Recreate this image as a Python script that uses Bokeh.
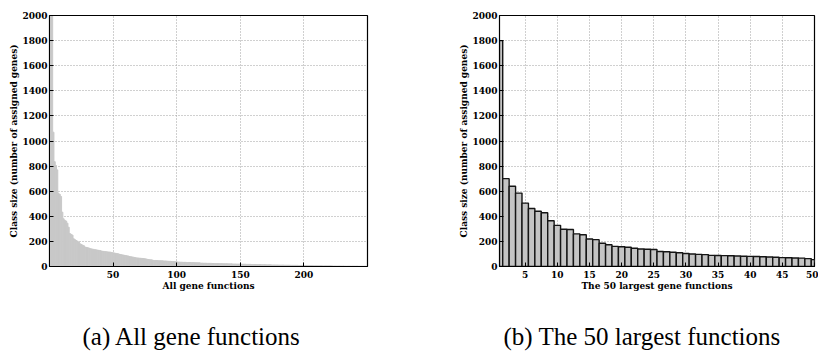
from bokeh.plotting import figure
from bokeh.layouts import row
from bokeh.models import Range1d, FixedTicker, Title
from bokeh.embed import file_html
from bokeh.resources import INLINE

# ---- data -----------------------------------------------------------------
all_sizes = [
    2600, 2200, 1070, 835, 805, 770, 584, 575, 558, 433,
    380, 368, 362, 345, 313, 262, 256, 250, 221, 214,
    207, 201, 195, 181, 176, 170, 165, 155, 152, 150,
    147, 142, 140, 138, 136, 134, 132, 130, 128, 126,
    123, 121, 120, 118, 117, 116, 115, 114, 111, 109,
    107, 105, 103, 101, 97, 95, 93, 91, 89, 87,
    85, 83, 80, 78, 76, 74, 72, 69, 68, 67,
    66, 65, 64, 63, 62, 60, 57, 55, 54, 53,
    51, 48, 48, 47, 47, 46, 46, 45, 45, 44,
    44, 43, 42, 41, 41, 40, 40, 39, 38, 37,
    35, 35, 34, 34, 33, 33, 33, 32, 32, 32,
    31, 31, 31, 30, 30, 30, 29, 29, 27, 27,
    26, 26, 26, 25, 25, 25, 25, 24, 24, 24,
    24, 23, 23, 23, 23, 22, 22, 22, 22, 21,
    21, 21, 21, 20, 20, 20, 19, 19, 19, 19,
    18, 18, 18, 18, 17, 17, 17, 17, 16, 16,
    16, 16, 15, 15, 15, 15, 14, 14, 14, 14,
    13, 13, 13, 13, 12, 12, 12, 12, 12, 11,
    11, 11, 11, 11, 10, 10, 10, 10, 10, 9,
    9, 9, 9, 9, 9, 8, 8, 8, 8, 8,
    8, 7, 7, 7, 7, 7, 7, 6, 6, 6,
    6, 6, 6, 6, 5, 5, 5, 5, 5, 5,
    5, 5, 4, 4, 4, 4, 4, 4, 4, 4,
    4, 3, 3, 3, 3, 3, 3, 3, 3, 3,
    3, 3, 2, 2, 2, 2, 2, 2, 2,
]
all_idx = list(range(1, len(all_sizes) + 1))

top50_sizes = [
    1800, 700, 640, 585, 505, 462, 440, 428, 365, 328,
    297, 295, 260, 253, 219, 214, 185, 173, 160, 157,
    153, 145, 139, 137, 135, 120, 117, 113, 109, 103,
    100, 97, 95, 89, 88, 87, 86, 84, 82, 81,
    80, 78, 76, 74, 71, 70, 68, 67, 63, 55,
]
top50_idx = list(range(1, len(top50_sizes) + 1))

y_ticks = list(range(0, 2001, 200))
x_ticks_all = [50, 100, 150, 200]
x_ticks_top = [5, 10, 15, 20, 25, 30, 35, 40, 45, 50]

y_label = "Class size (number of assigned genes)"
x_label_all = "All gene functions"
x_label_top = "The 50 largest gene functions"
caption_a = "(a) All gene functions"
caption_b = "(b) The 50 largest functions"

FONT = "DejaVu Serif"
CAP_FONT = "Liberation Serif"


def style(p, xticks):
    p.xaxis.ticker = FixedTicker(ticks=xticks)
    p.yaxis.ticker = FixedTicker(ticks=y_ticks)
    for ax in p.axis:
        ax.major_tick_in = 4
        ax.major_tick_out = 0
        ax.minor_tick_line_color = None
        ax.axis_line_color = "black"
        ax.major_tick_line_color = "black"
        ax.major_label_text_font = FONT
        ax.major_label_text_font_style = "bold"
        ax.major_label_text_font_size = "9px"
        ax.major_label_text_color = "black"
        ax.axis_label_text_font = FONT
        ax.axis_label_text_font_style = "bold"
        ax.axis_label_text_font_size = "9px"
        ax.axis_label_text_color = "black"
    p.yaxis.major_label_standoff = 2
    p.yaxis.axis_label_standoff = 0
    p.xaxis.major_label_standoff = 4
    p.xaxis.axis_label_standoff = 0
    p.outline_line_color = "black"
    p.outline_line_width = 1.2
    p.outline_line_alpha = 1.0
    p.grid.grid_line_color = "#a0a0a0"
    p.grid.grid_line_dash = "1 2"
    p.grid.grid_line_width = 1
    p.background_fill_color = "white"
    p.border_fill_color = "white"


def add_caption(p, text, offset):
    # invisible spacer between the x axis and the caption
    p.add_layout(Title(text=" ", text_font_size="1px", standoff=24), "below")
    p.add_layout(Title(text=text, align="left", offset=offset, standoff=0,
                       text_font=CAP_FONT, text_font_size="25px",
                       text_font_style="normal", text_color="black"), "below")


# ---- left panel -------------------------------------------------------------
p1 = figure(width=456, height=358, output_backend="svg", toolbar_location=None,
            x_range=Range1d(0, 250), y_range=Range1d(0, 2000),
            min_border_left=49, min_border_right=89, min_border_top=15,
            min_border_bottom=92, x_axis_label=x_label_all, y_axis_label=y_label)
p1.vbar(x=all_idx, top=all_sizes, bottom=0, width=1.0,
        fill_color="#c8c8c8", line_color="#c8c8c8", line_width=1.0)
style(p1, x_ticks_all)
add_caption(p1, caption_a, 33)

# ---- right panel ------------------------------------------------------------
p2 = figure(width=362, height=358, output_backend="svg", toolbar_location=None,
            x_range=Range1d(1, 50), y_range=Range1d(0, 2000),
            min_border_left=41, min_border_right=4, min_border_top=15,
            min_border_bottom=92, x_axis_label=x_label_top, y_axis_label=y_label)
p2.vbar(x=top50_idx, top=top50_sizes, bottom=0, width=1.0,
        fill_color="#c4c4c4", line_color="#151515", line_width=1.4)
style(p2, x_ticks_top)
add_caption(p2, caption_b, 4)

layout = row(p1, p2)
open("out.html", "w").write(file_html(layout, INLINE))
